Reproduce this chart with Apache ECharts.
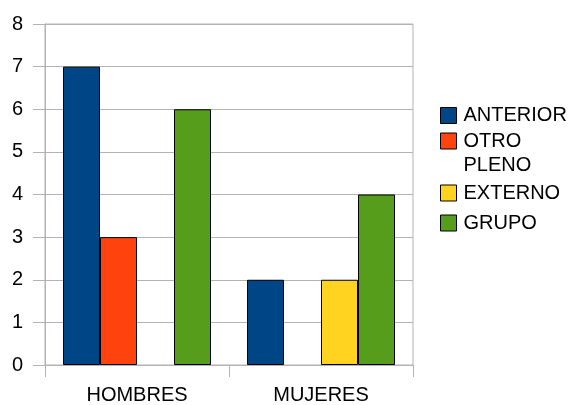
<!DOCTYPE html>
<html>
<head>
<meta charset="utf-8">
<script src="https://cdn.jsdelivr.net/npm/echarts@6/dist/echarts.min.js"></script>
<style>
    html, body { margin: 0; padding: 0; background: #fff; }
    #chart { width: 573px; height: 405px; }
</style>
</head>
<body>
<div id="chart"></div>
<script>
    const categories = ["HOMBRES", "MUJERES"];
    const seriesNames = ["ANTERIOR", "OTRO PLENO", "EXTERNO", "GRUPO"];
    const anterior = [7, 2];
    const otroPleno = [3, null];
    const externo = [null, 2];
    const grupo = [6, 4];
    const yTicks = [0, 1, 2, 3, 4, 5, 6, 7, 8];

    const colors = ["#004586", "#ff420e", "#ffd320", "#579d1c"];
    const lineColor = "#b3b3b3";
    const font = "Liberation Sans, Arial, sans-serif";

    const chart = echarts.init(document.getElementById("chart"));
    const values = [anterior, otroPleno, externo, grupo];

    // one legend per entry so each row sits where the reference has it.
    // the two-line name gets an empty first line, so the box is level with "OTRO"
    const legendTops = [103.5, 105, 181, 211];
    const legends = seriesNames.map((name, i) => ({
        orient: "vertical",
        left: 440,
        top: legendTops[i],
        padding: 0,
        itemWidth: 16,
        itemHeight: 16,
        icon: "rect",
        data: [name],
        formatter: (n) => n.indexOf(" ") > 0 ? "\u00a0\n" + n.replace(" ", "\n") : n,
        textStyle: {
            color: "#000",
            fontSize: 20,
            fontFamily: font,
            lineHeight: 24,
            padding: [0, 0, 0, 2],
        },
        itemStyle: { borderColor: "#000", borderWidth: 1 },
    }));

    const option = {
        animation: false,
        color: colors,
        textStyle: { fontFamily: font },
        grid: {
            left: 45,
            right: 160,
            top: 24,
            bottom: 39,
            show: true,
            borderColor: lineColor,
            borderWidth: 1,
        },
        legend: legends,
        xAxis: {
            type: "category",
            data: categories,
            axisLine: { show: true, lineStyle: { color: lineColor } },
            axisTick: { show: true, length: 12, lineStyle: { color: lineColor } },
            axisLabel: {
                color: "#000",
                fontSize: 20,
                fontFamily: font,
                margin: 20,
            },
        },
        yAxis: {
            type: "value",
            min: yTicks[0],
            max: yTicks[yTicks.length - 1],
            interval: 1,
            axisLine: { show: true, lineStyle: { color: lineColor } },
            axisTick: { show: true, length: 12, lineStyle: { color: lineColor } },
            splitLine: { show: true, lineStyle: { color: lineColor } },
            axisLabel: {
                color: "#000",
                fontSize: 20,
                fontFamily: font,
                margin: 22,
            },
        },
        series: seriesNames.map((name, i) => ({
            name: name,
            type: "bar",
            data: values[i],
            barWidth: 37,
            barGap: "0%",
            barCategoryGap: "19.5%",
            itemStyle: { borderColor: "#000", borderWidth: 1 },
        })),
    };

    chart.setOption(option);
</script>
</body>
</html>
